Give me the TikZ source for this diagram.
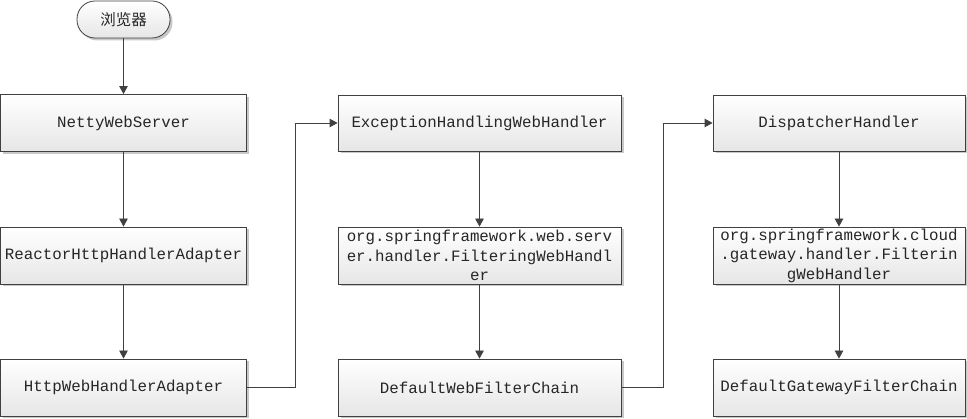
\documentclass[tikz,border=0pt]{standalone}
\usepackage{fontspec}
\setmonofont{Liberation Mono}
\newfontfamily\cjk{Noto Sans CJK SC}
\usetikzlibrary{arrows.meta,shadows}
\definecolor{edge}{HTML}{404040}
\definecolor{shade}{HTML}{E6E6E6}
\definecolor{shadowc}{HTML}{C8C8C8}
\tikzset{
  box/.style={draw=edge, line width=0.8pt, top color=white, bottom color=shade,
    minimum height=57pt, inner sep=0pt, align=center,
    font=\ttfamily\fontsize{15.8}{19.5}\selectfont, text=black!85,
    drop shadow={shadow xshift=2.5pt, shadow yshift=-2.5pt, fill=shadowc, opacity=1}},
  term/.style={box, rounded corners=18pt, minimum height=37pt, minimum width=93pt,
    font=\cjk\fontsize{15.5}{17}\selectfont},
  arr/.style={draw=edge, line width=0.8pt, -{Triangle[length=8pt,width=8.5pt]}}
}
\begin{document}
\begin{tikzpicture}[x=1pt,y=-1pt]
\useasboundingbox (0,0) rectangle (967,419);
\node[term] (br) at (123.5,19.5) {浏览器};
\node[box, minimum width=246pt] (nws) at (123.5,123) {NettyWebServer};
\node[box, minimum width=246pt] (rha) at (123.5,255.5) {ReactorHttpHandlerAdapter};
\node[box, minimum width=246pt] (hwa) at (123.5,387.5) {HttpWebHandlerAdapter};
\node[box, minimum width=283pt, minimum height=56pt] (ehw) at (479.5,123) {ExceptionHandlingWebHandler};
\node[box, minimum width=283pt] (fwh) at (479.5,255.5) {org.springframework.web.serv\\er.handler.FilteringWebHandl\\er};
\node[box, minimum width=283pt] (dwf) at (479.5,387.5) {DefaultWebFilterChain};
\node[box, minimum width=252pt, minimum height=56pt] (dh) at (839,123) {DispatcherHandler};
\node[box, minimum width=252pt] (gfw) at (839,255.5) {org.springframework.cloud\\.gateway.handler.Filterin\\gWebHandler};
\node[box, minimum width=252pt] (dgf) at (839,387.5) {DefaultGatewayFilterChain};
\draw[arr] (br) -- (nws);
\draw[arr] (nws) -- (rha);
\draw[arr] (rha) -- (hwa);
\draw[arr] (hwa.east) -- ++(48.5,0) |- (ehw.west);
\draw[arr] (ehw) -- (fwh);
\draw[arr] (fwh) -- (dwf);
\draw[arr] (dwf.east) -- ++(42,0) |- (dh.west);
\draw[arr] (dh) -- (gfw);
\draw[arr] (gfw) -- (dgf);
\end{tikzpicture}
\end{document}
